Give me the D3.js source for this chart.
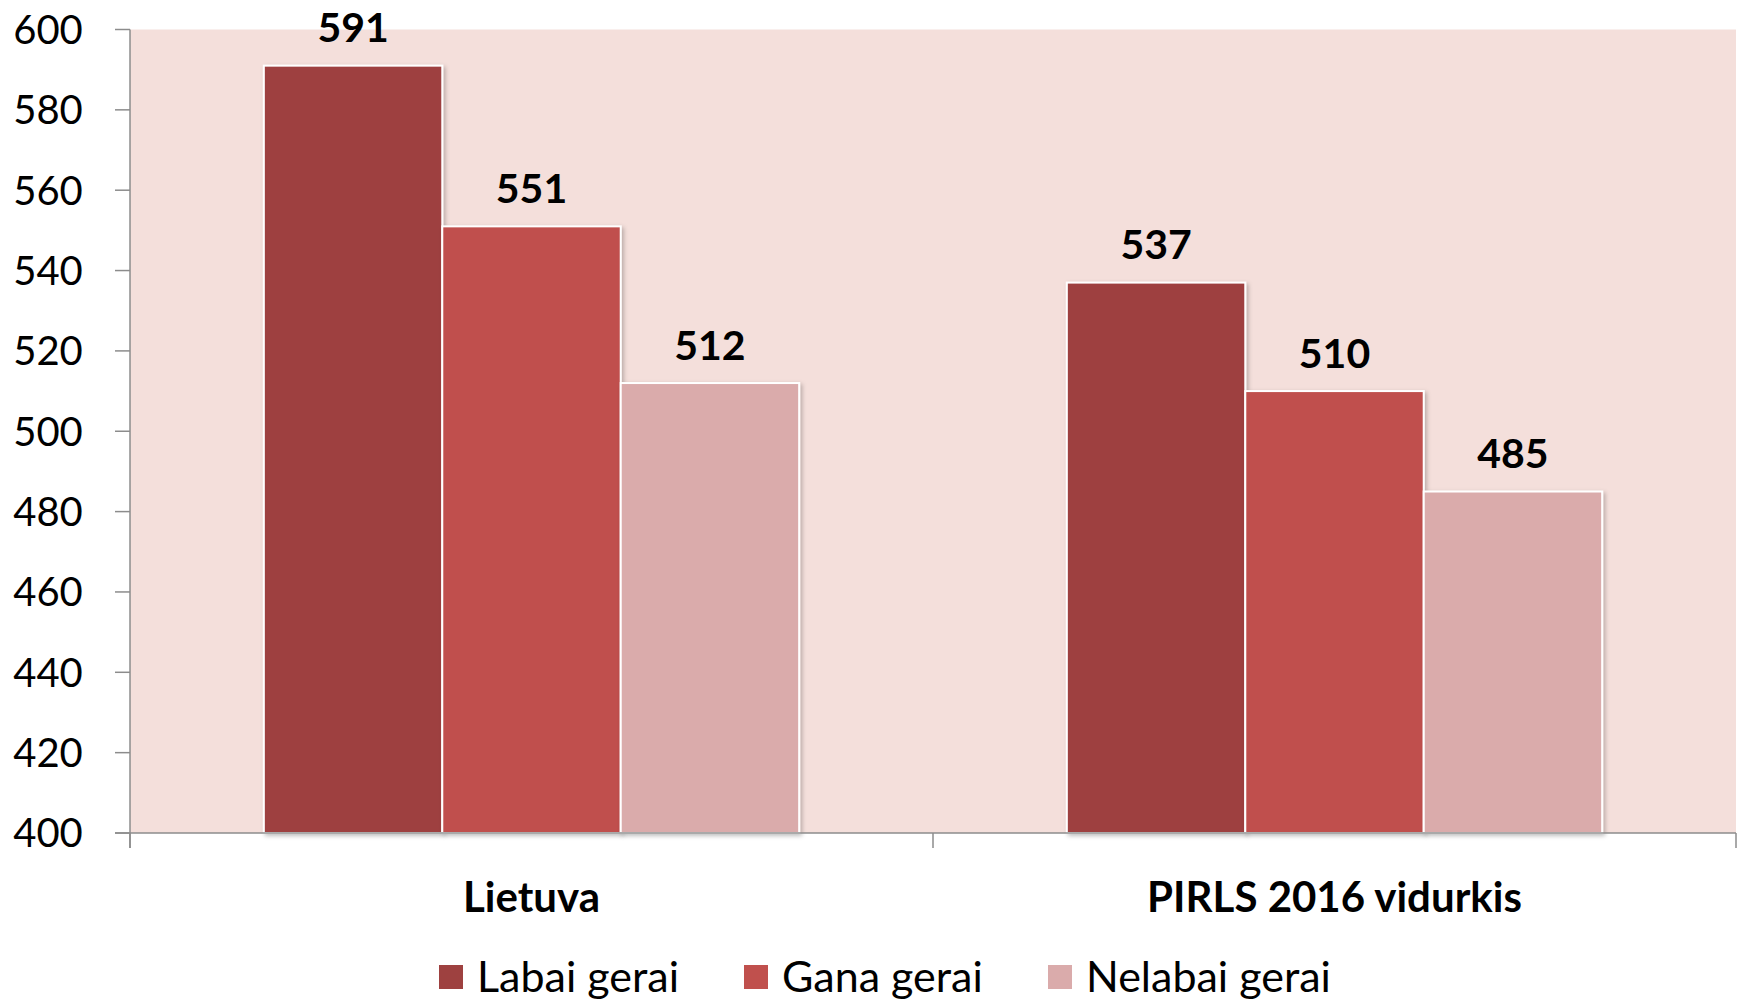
<!DOCTYPE html>
<html>
<head>
<meta charset="utf-8">
<script src="https://cdn.jsdelivr.net/npm/d3@7"></script>
<style>
  body { margin: 0; background: #fff; }
  text { font-family: Lato, "Open Sans", sans-serif; }
</style>
</head>
<body>
<div id="chart"></div>
<script>
var categories = ["Lietuva", "PIRLS 2016 vidurkis"];
var seriesNames = ["Labai gerai", "Gana gerai", "Nelabai gerai"];
var labaiGerai = [591, 537];
var ganaGerai = [551, 510];
var nelabaiGerai = [512, 485];
var yTicks = [400, 420, 440, 460, 480, 500, 520, 540, 560, 580, 600];

var colors = ["#9e4140", "#c0504d", "#daabab"];
var seriesValues = [labaiGerai, ganaGerai, nelabaiGerai];

var W = 1740, H = 1000;
var margin = {top: 29.5, right: 4, bottom: 167, left: 130};
var width = W - margin.left - margin.right,
    height = H - margin.top - margin.bottom;

var svg = d3.select("#chart").append("svg")
    .attr("width", W)
    .attr("height", H);

var defs = svg.append("defs");
var f = defs.append("filter").attr("id", "shadow")
    .attr("x", "-5%").attr("y", "-5%").attr("width", "115%").attr("height", "115%");
f.append("feDropShadow").attr("dx", 2).attr("dy", 2).attr("stdDeviation", 2)
    .attr("flood-color", "#000").attr("flood-opacity", 0.25);

var g = svg.append("g")
    .attr("transform", "translate(" + margin.left + "," + margin.top + ")");

var x0 = d3.scaleBand().domain(categories).range([0, width]).paddingInner(0).paddingOuter(0);
// gap width 150% -> group takes 3/4.5 of the band
var x1 = d3.scaleBand().domain(seriesNames)
    .range([x0.bandwidth() * 0.75 / 4.5, x0.bandwidth() * 3.75 / 4.5]);
var y = d3.scaleLinear().domain([400, 600]).range([height, 0]);

g.append("rect")
    .attr("width", width)
    .attr("height", height)
    .attr("fill", "#f4dfdb");

// y axis
g.append("line").attr("x1", 0).attr("x2", 0).attr("y1", 0).attr("y2", height + 15)
    .attr("stroke", "#8c8c8c").attr("stroke-width", 1.5);
g.selectAll(".ytick").data(yTicks).enter().append("line")
    .attr("x1", -15).attr("x2", 0)
    .attr("y1", d => y(d)).attr("y2", d => y(d))
    .attr("stroke", "#8c8c8c").attr("stroke-width", 1.5);
g.selectAll(".ylab").data(yTicks).enter().append("text")
    .attr("x", -82).attr("y", d => y(d))
    .attr("dy", "0.36em")
    .attr("text-anchor", "middle")
    .style("font-size", "40px")
    .attr("fill", "#000")
    .text(d => d);

// bars
var groups = g.selectAll(".grp").data(categories).enter().append("g")
    .attr("transform", d => "translate(" + x0(d) + ",0)");

groups.selectAll("rect").data((c, i) => seriesNames.map((s, j) => ({s: s, v: seriesValues[j][i], j: j})))
    .enter().append("rect")
    .attr("x", d => x1(d.s))
    .attr("y", d => y(d.v))
    .attr("width", x1.bandwidth())
    .attr("height", d => height - y(d.v))
    .attr("fill", d => colors[d.j])
    .attr("stroke", "#fff")
    .attr("stroke-width", 2)
    .attr("filter", "url(#shadow)");

groups.selectAll(".val").data((c, i) => seriesNames.map((s, j) => ({s: s, v: seriesValues[j][i]})))
    .enter().append("text")
    .attr("x", d => x1(d.s) + x1.bandwidth() / 2)
    .attr("y", d => y(d.v) - 38)
    .attr("dy", "0.36em")
    .attr("text-anchor", "middle")
    .style("font-size", "41px")
    .style("font-weight", "bold")
    .attr("fill", "#000")
    .text(d => d.v);

// x axis
g.append("line").attr("x1", -15).attr("x2", width).attr("y1", height).attr("y2", height)
    .attr("stroke", "#8c8c8c").attr("stroke-width", 1.5);
g.selectAll(".xtick").data([0, 1, 2]).enter().append("line")
    .attr("x1", d => d * x0.bandwidth()).attr("x2", d => d * x0.bandwidth())
    .attr("y1", height).attr("y2", height + 15)
    .attr("stroke", "#8c8c8c").attr("stroke-width", 1.5);
g.selectAll(".xlab").data(categories).enter().append("text")
    .attr("x", d => x0(d) + x0.bandwidth() / 2)
    .attr("y", 897 - margin.top)
    .attr("dy", "0.36em")
    .attr("text-anchor", "middle")
    .style("font-size", "42px")
    .style("font-weight", "bold")
    .attr("fill", "#000")
    .text(d => d);

// legend
var legendX = [439, 744, 1048];
var legend = svg.selectAll(".leg").data(seriesNames).enter().append("g")
    .attr("transform", (d, i) => "translate(" + legendX[i] + ",977)");
legend.append("rect")
    .attr("x", 0).attr("y", -12).attr("width", 24).attr("height", 24)
    .attr("fill", (d, i) => colors[i]);
legend.append("text")
    .attr("x", 38).attr("y", 0).attr("dy", "0.36em")
    .style("font-size", "43px")
    .attr("fill", "#000")
    .text(d => d);
</script>
</body>
</html>
